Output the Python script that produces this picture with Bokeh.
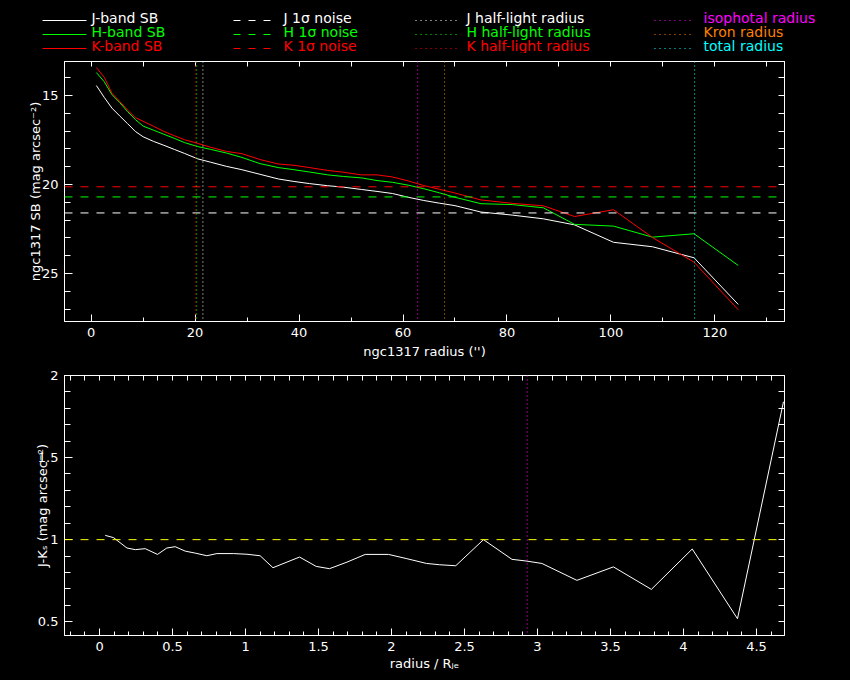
from bokeh.plotting import figure
from bokeh.models import (Range1d, Span, LinearAxis, SingleIntervalTicker, FixedTicker,
                          NumeralTickFormatter, ColumnDataSource)
from bokeh.layouts import column
from bokeh.embed import file_html
from bokeh.resources import INLINE
from bokeh.core.properties import value

# ---------------- data ----------------
radius = [1, 2.5, 4, 5.5, 7, 8.5, 10, 12, 14, 16, 18, 20.5, 23, 26, 29, 32.5, 36, 39, 42,
          45.5, 48.5, 52, 55, 58, 61, 64, 67, 70, 75, 81, 87, 93, 100.5, 108, 116, 124.5]
j_sb = [14.44, 15.10, 15.71, 16.15, 16.58, 17.02, 17.32, 17.58, 17.80, 18.03, 18.26, 18.56,
        18.75, 18.98, 19.17, 19.43, 19.69, 19.83, 19.95, 20.07, 20.15, 20.28, 20.39, 20.51,
        20.72, 20.90, 21.05, 21.19, 21.55, 21.72, 21.93, 22.27, 23.25, 23.50, 24.12, 26.74]
h_sb = [13.71, 14.22, 14.95, 15.40, 15.90, 16.35, 16.72, 16.95, 17.18, 17.41, 17.65, 17.87,
        18.03, 18.23, 18.48, 18.83, 19.05, 19.17, 19.30, 19.46, 19.55, 19.63, 19.78, 19.88,
        20.04, 20.24, 20.47, 20.72, 21.08, 21.13, 21.31, 22.24, 22.34, 22.96, 22.77, 24.55]
k_sb = [13.43, 13.97, 14.87, 15.33, 15.82, 16.24, 16.45, 16.73, 17.02, 17.26, 17.49, 17.69,
        17.91, 18.14, 18.27, 18.60, 18.85, 18.92, 19.05, 19.21, 19.31, 19.46, 19.46, 19.58,
        19.80, 20.06, 20.27, 20.48, 20.87, 21.06, 21.20, 21.80, 21.42, 22.98, 24.37, 27.04]

bands = ["J", "H", "K"]
band_colors = ["white", "#00ff00", "#ff0000"]
noise_sb = [21.60, 20.70, 20.13]
half_light_radius = [21.5, 20.3, 20.1]

other_radius_names = ["isophotal radius", "Kron radius", "total radius"]
other_radius_colors = ["#ff00ff", "#ff8000", "#00ffff"]
other_radius = [62.8, 68.0, 116.1]

color_radius = [0.039, 0.096, 0.188, 0.245, 0.313, 0.397, 0.461, 0.518, 0.587, 0.655, 0.735,
                0.804, 0.918, 1.01, 1.10, 1.188, 1.37, 1.484, 1.575, 1.695, 1.82, 1.98, 2.105,
                2.24, 2.33, 2.44, 2.63, 2.825, 2.92, 3.03, 3.27, 3.52, 3.78, 4.06, 4.37, 4.685]
color_jk = [1.026, 1.012, 0.949, 0.939, 0.945, 0.910, 0.949, 0.957, 0.930, 0.918, 0.902,
            0.915, 0.915, 0.911, 0.902, 0.829, 0.894, 0.837, 0.823, 0.863, 0.910, 0.910, 0.884,
            0.855, 0.847, 0.841, 1.0, 0.88, 0.87, 0.855, 0.752, 0.834, 0.697, 0.943, 0.518, 1.84]
color_ref = 1.0
color_marker_radius = 2.93

FONT = "DejaVu Sans"
TICK_FS = "13px"

FRAME_L, FRAME_R_BORDER = 64, 66
FRAME_W, FRAME_H = 720, 260
LEG_H = 53


def style_axis(ax, major_in=8, minor_in=4):
    ax.axis_line_color = "white"
    ax.major_tick_line_color = "white"
    ax.minor_tick_line_color = "white"
    ax.major_tick_in = major_in
    ax.major_tick_out = 0
    ax.minor_tick_in = minor_in
    ax.minor_tick_out = 0
    ax.major_label_text_color = "white"
    ax.major_label_text_font = FONT
    ax.major_label_text_font_size = TICK_FS
    ax.axis_label_text_color = "white"
    ax.axis_label_text_font = FONT
    ax.axis_label_text_font_size = "13px"
    ax.axis_label_text_font_style = "normal"


def make_fig(bt, bb, xr, yr, xint, xminor, yint, yminor, top_ticks, right_ticks):
    p = figure(frame_width=FRAME_W, frame_height=FRAME_H, x_range=xr, y_range=yr,
               toolbar_location=None, output_backend="svg",
               min_border_left=FRAME_L, min_border_right=FRAME_R_BORDER,
               min_border_top=bt, min_border_bottom=bb,
               background_fill_color="black", border_fill_color="black",
               outline_line_color="white")
    p.xgrid.visible = False
    p.ygrid.visible = False
    bottom_ax = p.below[0]
    left_ax = p.left[0]
    bottom_ax.ticker = SingleIntervalTicker(interval=xint, num_minor_ticks=xminor)
    left_ax.ticker = SingleIntervalTicker(interval=yint, num_minor_ticks=yminor)
    bottom_ax.formatter = NumeralTickFormatter(format="0.[0]")
    left_ax.formatter = NumeralTickFormatter(format="0.[0]")
    style_axis(bottom_ax, 7, 4)
    bottom_ax.major_label_standoff = 6
    style_axis(left_ax, 8, 6)
    left_ax.major_label_standoff = 6
    top = LinearAxis(ticker=FixedTicker(ticks=[], minor_ticks=top_ticks))
    right = LinearAxis(ticker=FixedTicker(ticks=[], minor_ticks=right_ticks))
    style_axis(top, 5, 5)
    style_axis(right, 6, 6)
    for ax in (top, right):
        ax.major_label_standoff = 0
    p.add_layout(top, "above")
    p.add_layout(right, "right")
    return p, bottom_ax, left_ax


# ---------------- legend strip (its own canvas, page pixel coordinates) ----------------
leg = figure(frame_width=850, frame_height=LEG_H, x_range=Range1d(0, 850),
             y_range=Range1d(LEG_H, 0),
             toolbar_location=None, output_backend="svg",
             min_border_left=0, min_border_right=0, min_border_top=0, min_border_bottom=0,
             x_axis_location=None, y_axis_location=None,
             background_fill_color="black", border_fill_color="black",
             outline_line_color=None)
leg.frame_align = False
leg.xgrid.visible = False
leg.ygrid.visible = False

col_x0 = [42, 233, 415, 654]
col_x1 = [86, 277, 457, 694]
col_tx = [91, 283, 466, 703]
row_line_y = [20, 34, 48]
row_text_y = [17, 31, 45]
col_dash = ["solid", "7 8", "1 4", "1 4"]

legend_labels = [
    [f"{b}-band SB" for b in bands],
    [f"{b} 1\u03c3 noise" for b in bands],
    [f"{b} half-light radius" for b in bands],
    other_radius_names,
]
legend_colors = [band_colors, band_colors, band_colors, other_radius_colors]

for c in range(4):
    for r in range(3):
        leg.segment(x0=col_x0[c], y0=row_line_y[r], x1=col_x1[c], y1=row_line_y[r],
                    line_color=legend_colors[c][r], line_width=1, line_dash=col_dash[c])
    src = ColumnDataSource(dict(x=[col_tx[c]] * 3, y=row_text_y, t=legend_labels[c],
                                col=legend_colors[c]))
    leg.text(x="x", y="y", text="t", text_color="col", source=src,
             text_font=value(FONT), text_font_size="14px",
             text_align="left", text_baseline="middle")

# ---------------- top panel ----------------
p1, p1x, p1y = make_fig(61 - LEG_H, 47, Range1d(-5.13, 133.4), Range1d(27.7, 13.09),
                        20, 2, 5, 5,
                        [10 * i for i in range(-1, 15)], [float(v) for v in range(13, 29)])
p1x.axis_label = "ngc1317 radius ('')"
p1y.axis_label = "ngc1317 SB (mag arcsec\u207b\u00b2)"
p1x.axis_label_standoff = 4
p1y.axis_label_standoff = -4

for vals, colr in zip([j_sb, h_sb, k_sb], band_colors):
    p1.line(radius, vals, line_color=colr, line_width=1)

for lvl, colr in zip(noise_sb, band_colors):
    p1.add_layout(Span(location=lvl, dimension="width", line_color=colr,
                       line_width=1, line_dash="8 8"))
for rad, colr in zip(half_light_radius, band_colors):
    p1.add_layout(Span(location=rad, dimension="height", line_color=colr,
                       line_width=1, line_dash="1 3"))
for rad, colr in zip(other_radius, other_radius_colors):
    p1.add_layout(Span(location=rad, dimension="height", line_color=colr,
                       line_width=1, line_dash="1 3"))

# ---------------- bottom panel ----------------
p2, p2x, p2y = make_fig(7, 45, Range1d(-0.24, 4.692), Range1d(0.416, 2.0),
                        0.5, 5, 0.5, 5,
                        [round(0.1 * i, 1) for i in range(-3, 48)],
                        [round(0.1 * i, 1) for i in range(4, 21)])
p2x.axis_label = "radius / R\u2c7c\u2091"
p2y.axis_label = "J-K\u209b (mag arcsec\u207b\u00b2)"
p2x.axis_label_standoff = 2
p2y.axis_label_standoff = -15

p2.add_layout(Span(location=color_ref, dimension="width", line_color="#ffff00",
                   line_width=1, line_dash="8 8"))
p2.add_layout(Span(location=color_marker_radius, dimension="height", line_color="#ff00ff",
                   line_width=1, line_dash="1 3"))
p2.line(color_radius, color_jk, line_color="white", line_width=1)

layout = column(leg, p1, p2, spacing=0)
html = file_html(layout, INLINE, title="ngc1317")
html = html.replace("</head>", "<style>html,body{background:#000;}</style></head>", 1)
open("out.html", "w").write(html)
